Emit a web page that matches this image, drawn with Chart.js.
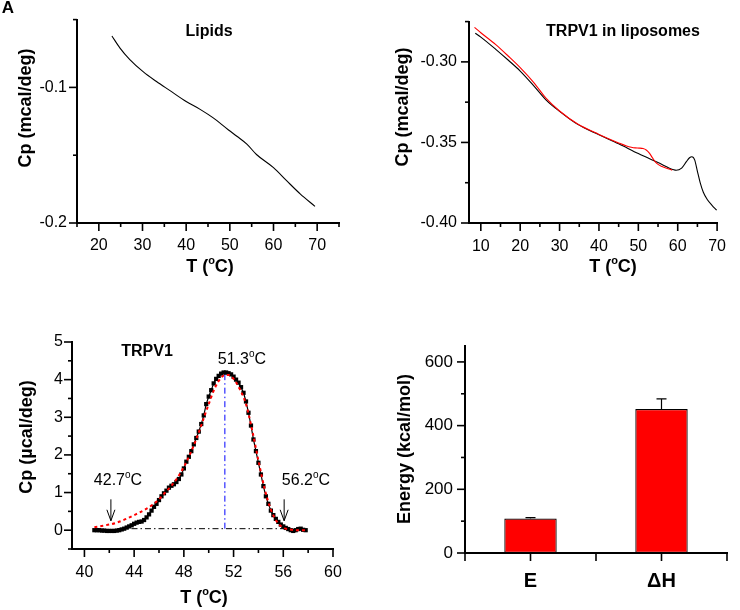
<!DOCTYPE html>
<html><head><meta charset="utf-8">
<script src="https://cdn.jsdelivr.net/npm/chart.js@4.4.1/dist/chart.umd.min.js"></script>
<style>
html,body{margin:0;padding:0;background:#fff}
body{width:740px;height:610px;position:relative;overflow:hidden}
canvas{position:absolute;display:block}
</style></head><body>
<canvas id="cA" width="370" height="300" style="left:0;top:0"></canvas>
<canvas id="cB" width="370" height="300" style="left:370px;top:0"></canvas>
<canvas id="cC" width="370" height="310" style="left:0;top:300px"></canvas>
<canvas id="cD" width="370" height="310" style="left:370px;top:300px"></canvas>
<script>
// ---------- DATA ----------
// Panel A: Lipids
const lipidT  = [23.0,24.85,27.1,30.2,33.2,36.3,40.0,43.2,46.2,49.7,51.7,53.9,56.1,60.0,63.0,66.1,69.5];
const lipidCp = [-0.0621,-0.0710,-0.0795,-0.0886,-0.0957,-0.1024,-0.1104,-0.1162,-0.1225,-0.1314,-0.1362,-0.1418,-0.1495,-0.1592,-0.1688,-0.1785,-0.1877];
// Panel B: TRPV1 in liposomes (black = rescan, red = first scan)
const lipoT  = [8.6,10.0,13.8,17.0,20.0,23.4,26.6,30.0,34.6,40.0,45.0,50.0,55.0,59.0,59.6,61.0,62.2,63.0,63.6,64.3,65.0,65.7,66.5,67.5,68.7,69.9];
const lipoCp = [-0.2822,-0.2846,-0.2922,-0.2990,-0.3057,-0.3147,-0.3237,-0.3307,-0.3388,-0.3452,-0.3508,-0.3569,-0.3625,-0.3670,-0.3673,-0.3659,-0.3619,-0.3595,-0.3589,-0.3608,-0.3679,-0.3749,-0.3809,-0.3854,-0.3890,-0.3920];
const protT  = [8.4,10.0,13.8,17.0,20.0,23.4,26.6,30.0,34.6,40.0,45.0,47.0,48.2,49.2,50.2,51.2,52.0,52.8,53.6,54.6,56.0,57.8,58.6];
const protCp = [-0.2786,-0.2819,-0.2893,-0.2965,-0.3036,-0.3127,-0.3227,-0.3305,-0.3386,-0.3450,-0.3503,-0.3522,-0.3530,-0.3534,-0.3535,-0.3538,-0.3547,-0.3566,-0.3596,-0.3629,-0.3650,-0.3665,-0.3672];
// Panel C: TRPV1 excess heat capacity (black squares = data, red dotted = fit)
const trpT  = [40.8,41.0,41.2,41.4,41.6,41.8,42.0,42.2,42.4,42.6,42.8,43.0,43.2,43.4,43.6,43.8,44.0,44.2,44.4,44.6,44.8,45.0,45.2,45.4,45.6,45.8,46.0,46.2,46.4,46.6,46.8,47.0,47.2,47.4,47.6,47.8,48.0,48.2,48.4,48.6,48.8,49.0,49.2,49.4,49.6,49.8,50.0,50.2,50.4,50.6,50.8,51.0,51.2,51.4,51.6,51.8,52.0,52.2,52.4,52.6,52.8,53.0,53.2,53.4,53.6,53.8,54.0,54.2,54.4,54.6,54.8,55.0,55.2,55.4,55.6,55.8,56.0,56.2,56.4,56.6,56.8,57.0,57.2,57.4,57.6,57.8];
const trpCp = [0.00,0.00,0.00,-0.01,-0.01,-0.02,-0.02,-0.02,-0.02,-0.01,0.00,0.02,0.04,0.07,0.10,0.13,0.17,0.20,0.22,0.23,0.27,0.34,0.42,0.52,0.62,0.70,0.80,0.90,0.98,1.05,1.13,1.18,1.22,1.28,1.36,1.48,1.64,1.82,1.95,2.10,2.28,2.45,2.62,2.82,3.05,3.35,3.55,3.72,3.90,4.02,4.10,4.16,4.19,4.19,4.17,4.14,4.08,4.00,3.92,3.80,3.65,3.42,3.12,2.78,2.41,2.10,1.79,1.48,1.17,0.90,0.70,0.52,0.40,0.30,0.22,0.15,0.10,0.06,0.03,0.00,-0.02,0.00,0.03,0.04,0.01,0.00];
const fitT  = [40.8,41.5,42.0,42.5,43.0,43.5,44.0,44.5,45.0,45.5,46.0,46.5,47.0,47.5,48.0,48.5,49.0,49.5,50.0,50.5,51.0,51.3,51.6,52.0,52.5,53.0,53.5,54.0,54.5,55.0,55.5,56.0,56.5,57.0,57.5,57.8];
const fitCp = [0.08,0.12,0.15,0.19,0.25,0.32,0.40,0.48,0.57,0.68,0.82,1.00,1.18,1.40,1.68,2.02,2.42,2.88,3.35,3.78,4.05,4.12,4.12,4.02,3.75,3.35,2.65,1.85,1.10,0.55,0.22,0.07,0.02,0.00,0.00,0.00];
const onsetT = 42.7, peakT = 51.3, endT = 56.2, peakCp = 4.19, baseCp = 0.04;
const arrowT = [42.13, 56.07];
// Panel D: energies
const energyLabels = ['E','\u0394H'];
const energyValues = [108, 452];
const energyErrors = [3, 32];

// ---------- HELPERS ----------
const FONT = "'Liberation Sans', Arial, Helvetica, sans-serif";
const pts = (xs, ys) => xs.map((x,i)=>({x:x, y:ys[i]}));

function drawRich(ctx, text, x, y, size, bold, rot){
  const segs=[];
  for(let i=0;i<text.length;i++){
    if(text[i]==='^'){segs.push({t:text[i+1],sup:true});i++;}
    else{ if(segs.length && !segs[segs.length-1].sup) segs[segs.length-1].t+=text[i]; else segs.push({t:text[i],sup:false}); }
  }
  const w8 = bold?'bold ':'';
  const supSize = Math.round(size*0.62);
  let total=0;
  segs.forEach(s=>{ctx.font=w8+(s.sup?supSize:size)+'px '+FONT; s.w=ctx.measureText(s.t).width; total+=s.w;});
  ctx.save();
  ctx.translate(x,y); ctx.rotate(rot||0);
  ctx.fillStyle='#000'; ctx.textBaseline='middle'; ctx.textAlign='left';
  let cx=-total/2;
  segs.forEach(s=>{ctx.font=w8+(s.sup?supSize:size)+'px '+FONT; ctx.fillText(s.t,cx,s.sup?-size*0.36:0); cx+=s.w;});
  ctx.restore();
}

const textPlugin = {
  id:'texts',
  afterDraw(chart, args, opts){
    (opts.items||[]).forEach(it=>drawRich(chart.ctx,it.text,it.x,it.y,it.size,it.bold,it.rot));
  }
};

const tickPlugin = {
  id:'axTicks',
  afterDraw(chart, args, opts){
    const ctx=chart.ctx;
    ctx.save(); ctx.strokeStyle='#000'; ctx.lineWidth=1.6;
    ['x','y'].forEach(id=>{
      const s=chart.scales[id]; const items=[];
      s.ticks.forEach((t,i)=>items.push({p:s.getPixelForTick(i),major:(t.label!==''&&t.label!=null)}));
      if(id==='x' && opts.boundaries){ for(let i=0;i<=s.ticks.length;i++) items.push({p:s.getPixelForValue(i-0.5),major:true}); }
      items.forEach(it=>{
        const len=it.major?opts.major:opts.minor;
        ctx.beginPath();
        if(s.isHorizontal()){ctx.moveTo(it.p,s.top);ctx.lineTo(it.p,s.top+len);}
        else{ctx.moveTo(s.right,it.p);ctx.lineTo(s.right-len,it.p);}
        ctx.stroke();
      });
    });
    ctx.restore();
  }
};

function axis(extra){
  return Object.assign({
    grid:{display:false,drawTicks:false},
    border:{display:true,color:'#000',width:2},
  }, extra);
}
function tickFont(size){return {size:size||16,family:FONT};}
const basePlugins = {legend:{display:false},tooltip:{enabled:false}};

// ---------- PANEL A ----------
new Chart(document.getElementById('cA'),{
  type:'line',
  data:{datasets:[{data:pts(lipidT,lipidCp),borderColor:'#000',borderWidth:1.1,pointRadius:0,cubicInterpolationMode:'monotone',fill:false}]},
  options:{
    responsive:false,animation:false,
    layout:{padding:{left:0,top:16,right:31,bottom:0}},
    plugins:Object.assign({},basePlugins,{
      axTicks:{major:8,minor:4},
      texts:{items:[
        {text:'Cp (mcal/deg)',x:26,y:108,size:18,bold:true,rot:-Math.PI/2},
        {text:'T (^oC)',x:210,y:267,size:18,bold:true},
        {text:'Lipids',x:209,y:32,size:16,bold:true},
        {text:'A',x:8,y:8,size:17,bold:true}
      ]}
    }),
    scales:{
      x:axis({type:'linear',min:15,max:75,afterFit:s=>{s.height=77;},
        ticks:{stepSize:5,includeBounds:false,autoSkip:false,maxRotation:0,minRotation:0,padding:13,color:'#000',font:tickFont(16),
          callback:v=>(Math.round(v)%10===0?String(Math.round(v)):'')}}),
      y:axis({type:'linear',min:-0.2,max:-0.05,afterFit:s=>{s.width=77;},
        ticks:{stepSize:0.05,includeBounds:false,autoSkip:false,padding:10,color:'#000',font:tickFont(16),
          callback:v=>{const k=Math.round(v*100);return (k%10===0)?(k/100).toFixed(1):'';}}})
    }
  },
  plugins:[tickPlugin,textPlugin]
});

// ---------- PANEL B ----------
new Chart(document.getElementById('cB'),{
  type:'line',
  data:{datasets:[
    {data:pts(protT,protCp),borderColor:'#ff0000',borderWidth:1.1,pointRadius:0,cubicInterpolationMode:'monotone',fill:false},
    {data:pts(lipoT,lipoCp),borderColor:'#000',borderWidth:1.1,pointRadius:0,cubicInterpolationMode:'monotone',fill:false}
  ]},
  options:{
    responsive:false,animation:false,
    layout:{padding:{left:0,top:16,right:10,bottom:0}},
    plugins:Object.assign({},basePlugins,{
      axTicks:{major:8,minor:4},
      texts:{items:[
        {text:'Cp (mcal/deg)',x:33,y:107,size:18,bold:true,rot:-Math.PI/2},
        {text:'T (^oC)',x:243,y:267,size:18,bold:true},
        {text:'TRPV1 in liposomes',x:253,y:32,size:16,bold:true}
      ]}
    }),
    scales:{
      x:axis({type:'linear',min:7,max:70,afterFit:s=>{s.height=77;},
        ticks:{stepSize:5,includeBounds:false,autoSkip:false,maxRotation:0,minRotation:0,padding:14,color:'#000',font:tickFont(16),
          callback:v=>(Math.round(v)%10===0?String(Math.round(v)):'')}}),
      y:axis({type:'linear',min:-0.4,max:-0.275,afterFit:s=>{s.width=99;},
        ticks:{stepSize:0.025,includeBounds:false,autoSkip:false,padding:12,color:'#000',font:tickFont(16),
          callback:v=>{const k=Math.round(v*1000);return (k%50===0)?(k/1000).toFixed(2):'';}}})
    }
  },
  plugins:[tickPlugin,textPlugin]
});

// ---------- PANEL C ----------
new Chart(document.getElementById('cC'),{
  type:'line',
  data:{datasets:[
    {data:pts(fitT,fitCp),borderColor:'#ff0000',borderWidth:2,borderDash:[3,3],pointRadius:0,cubicInterpolationMode:'monotone',fill:false},
    {data:pts(trpT,trpCp),borderColor:'#000',borderWidth:1.2,pointStyle:'rect',pointRadius:3,pointBackgroundColor:'#000',pointBorderWidth:0,fill:false},
    {data:[{x:peakT,y:baseCp},{x:peakT,y:peakCp}],borderColor:'#0000ff',borderWidth:1,borderDash:[6,3,1.5,3],pointRadius:0,fill:false},
    {data:[{x:onsetT,y:baseCp},{x:endT,y:baseCp}],borderColor:'#000',borderWidth:1,borderDash:[6,3,1.5,3],pointRadius:0,fill:false}
  ]},
  options:{
    responsive:false,animation:false,
    layout:{padding:{left:0,top:42,right:37,bottom:0}},
    plugins:Object.assign({},basePlugins,{
      axTicks:{major:8,minor:4},
      texts:{items:[
        {text:'Cp (\u00b5cal/deg)',x:27,y:137,size:18,bold:true,rot:-Math.PI/2},
        {text:'T (^oC)',x:204,y:298,size:18,bold:true},
        {text:'TRPV1',x:147,y:52,size:16,bold:true},
        {text:'51.3^oC',x:242,y:60,size:16,bold:false},
        {text:'42.7^oC',x:118,y:181,size:16,bold:false},
        {text:'56.2^oC',x:306,y:181,size:16,bold:false}
      ]}
    }),
    scales:{
      x:axis({type:'linear',min:39,max:60,afterFit:s=>{s.height=61;},
        ticks:{stepSize:2,includeBounds:false,autoSkip:false,maxRotation:0,minRotation:0,padding:14,color:'#000',font:tickFont(16),
          callback:v=>(Math.round(v)%4===0?String(Math.round(v)):'')}}),
      y:axis({type:'linear',min:-0.5,max:5,afterFit:s=>{s.width=72;},
        ticks:{stepSize:0.5,includeBounds:false,autoSkip:false,padding:9,color:'#000',font:tickFont(16),
          callback:v=>{const k=Math.round(v*10);return (k%10===0)?String(k/10):'';}}})
    }
  },
  plugins:[tickPlugin,textPlugin,{
    id:'arrows',
    afterDraw(chart){
      const ctx=chart.ctx,xs=chart.scales.x,ys=chart.scales.y;
      ctx.save();ctx.strokeStyle='#000';ctx.lineWidth=1;
      arrowT.forEach(t=>{
        const x=xs.getPixelForValue(t),y1=ys.getPixelForValue(0.82),y2=ys.getPixelForValue(0.25);
        ctx.beginPath();ctx.moveTo(x,y1);ctx.lineTo(x,y2);
        ctx.moveTo(x-4,y2-11);ctx.lineTo(x,y2);ctx.lineTo(x+4,y2-11);ctx.stroke();
      });
      ctx.restore();
    }
  }]
});

// ---------- PANEL D ----------
new Chart(document.getElementById('cD'),{
  type:'bar',
  data:{labels:energyLabels,datasets:[{data:energyValues,backgroundColor:'#ff0000',borderColor:'#000',borderWidth:1.2,borderSkipped:false,barPercentage:0.4,categoryPercentage:1}]},
  options:{
    responsive:false,animation:false,
    layout:{padding:{left:0,top:46,right:13,bottom:0}},
    plugins:Object.assign({},basePlugins,{
      axTicks:{major:8,minor:4,boundaries:true},
      texts:{items:[
        {text:'Energy (kcal/mol)',x:35,y:149,size:18,bold:true,rot:-Math.PI/2}
      ]}
    }),
    scales:{
      x:axis({type:'category',offset:true,afterFit:s=>{s.height=57;},
        ticks:{autoSkip:false,maxRotation:0,minRotation:0,padding:16,color:'#000',font:{size:20,weight:'bold',family:FONT}}}),
      y:axis({type:'linear',min:0,max:650,afterFit:s=>{s.width=95;},
        ticks:{stepSize:100,includeBounds:false,autoSkip:false,padding:12,color:'#000',font:tickFont(17),
          callback:v=>(Math.round(v)%200===0?String(Math.round(v)):'')}})
    }
  },
  plugins:[tickPlugin,textPlugin,{
    id:'errorBars',
    afterDatasetsDraw(chart){
      const ctx=chart.ctx,ys=chart.scales.y,meta=chart.getDatasetMeta(0);
      ctx.save();ctx.strokeStyle='#000';ctx.lineWidth=1.2;
      meta.data.forEach((el,i)=>{
        const yt=ys.getPixelForValue(energyValues[i]+energyErrors[i]);
        ctx.beginPath();ctx.moveTo(el.x,el.y);ctx.lineTo(el.x,yt);
        ctx.moveTo(el.x-5,yt);ctx.lineTo(el.x+5,yt);ctx.stroke();
      });
      ctx.restore();
    }
  }]
});
</script>
</body></html>
